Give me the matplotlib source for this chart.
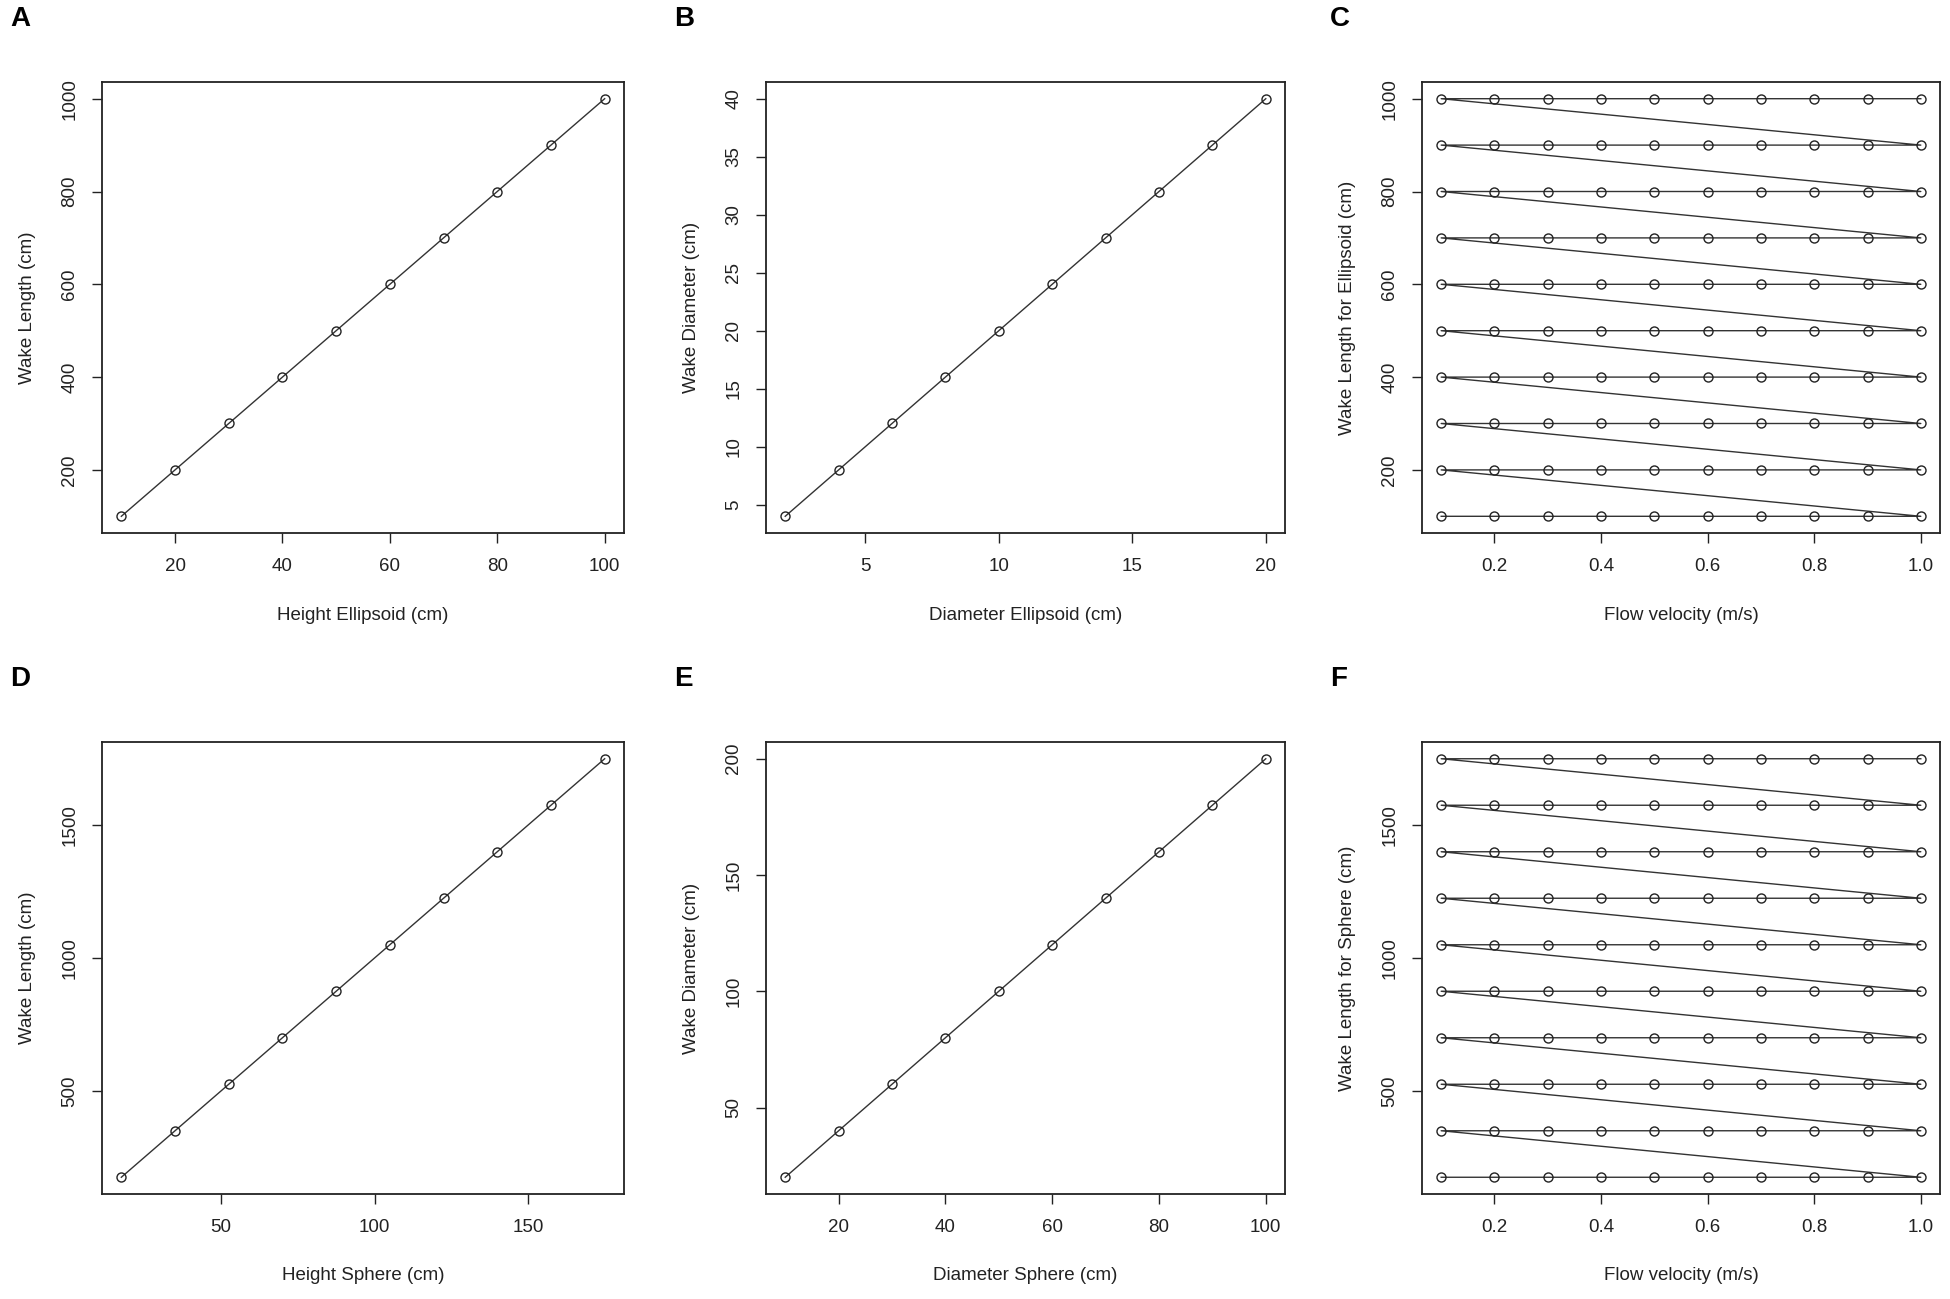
import matplotlib
matplotlib.use("Agg")
import matplotlib.pyplot as plt

plt.rcParams['font.family'] = ['Liberation Sans', 'DejaVu Sans']

# data
height_ellipsoid = [10, 20, 30, 40, 50, 60, 70, 80, 90, 100]
wake_length_ellipsoid = [100, 200, 300, 400, 500, 600, 700, 800, 900, 1000]
diameter_ellipsoid = [2, 4, 6, 8, 10, 12, 14, 16, 18, 20]
wake_diameter_ellipsoid = [4, 8, 12, 16, 20, 24, 28, 32, 36, 40]
height_sphere = [17.5, 35, 52.5, 70, 87.5, 105, 122.5, 140, 157.5, 175]
wake_length_sphere = [175, 350, 525, 700, 875, 1050, 1225, 1400, 1575, 1750]
diameter_sphere = [10, 20, 30, 40, 50, 60, 70, 80, 90, 100]
wake_diameter_sphere = [20, 40, 60, 80, 100, 120, 140, 160, 180, 200]
flow_velocity = [0.1, 0.2, 0.3, 0.4, 0.5, 0.6, 0.7, 0.8, 0.9, 1.0]

xticks_a = [20, 40, 60, 80, 100]
yticks_a = [200, 400, 600, 800, 1000]
xticks_b = [5, 10, 15, 20]
yticks_b = [5, 10, 15, 20, 25, 30, 35, 40]
xticks_c = [0.2, 0.4, 0.6, 0.8, 1.0]
yticks_c = [200, 400, 600, 800, 1000]
xticks_d = [50, 100, 150]
yticks_d = [500, 1000, 1500]
xticks_e = [20, 40, 60, 80, 100]
yticks_e = [50, 100, 150, 200]
yticks_f = [500, 1000, 1500]


def grid(levels):
    # velocity sweep for every wake level, in the order R drew them
    xs, ys = [], []
    for lv in levels:
        for v in flow_velocity:
            xs.append(v)
            ys.append(lv)
    return xs, ys


W, H = 1950, 1299
fig = plt.figure(figsize=(W / 100, H / 100), dpi=100)

cols = [(102, 624), (766, 1285), (1422, 1940)]
rows = [(82, 533), (742, 1194)]

panels = [
    ('A', height_ellipsoid, wake_length_ellipsoid, 'Height Ellipsoid (cm)', 'Wake Length (cm)', xticks_a, yticks_a, None),
    ('B', diameter_ellipsoid, wake_diameter_ellipsoid, 'Diameter Ellipsoid (cm)', 'Wake Diameter (cm)', xticks_b, yticks_b, None),
    ('C', *grid(wake_length_ellipsoid), 'Flow velocity (m/s)', 'Wake Length for Ellipsoid (cm)', xticks_c, yticks_c, '%.1f'),
    ('D', height_sphere, wake_length_sphere, 'Height Sphere (cm)', 'Wake Length (cm)', xticks_d, yticks_d, None),
    ('E', diameter_sphere, wake_diameter_sphere, 'Diameter Sphere (cm)', 'Wake Diameter (cm)', xticks_e, yticks_e, None),
    ('F', *grid(wake_length_sphere), 'Flow velocity (m/s)', 'Wake Length for Sphere (cm)', xticks_c, yticks_f, '%.1f'),
]

txt = '#222222'
for i, (letter, x, y, xl, yl, xt, yt, fmt) in enumerate(panels):
    r, c = divmod(i, 3)
    x0, x1 = cols[c]
    y0, y1 = rows[r]
    ax = fig.add_axes([x0 / W, 1 - y1 / H, (x1 - x0) / W, (y1 - y0) / H])
    ax.plot(x, y, color='#333333', lw=1.0, marker='o', markersize=6.5,
            markerfacecolor='none', markeredgecolor='#222222', markeredgewidth=1.0)
    ax.margins(0.04)
    ax.set_xticks(xt)
    ax.set_yticks(yt)
    if fmt:
        ax.set_xticklabels([fmt % v for v in xt])
    for s in ax.spines.values():
        s.set_linewidth(1.3)
        s.set_color('#222222')
    ax.tick_params(direction='out', length=7, width=1, color='#222222',
                   labelsize=13.5, labelcolor=txt)
    ax.tick_params(axis='x', pad=11)
    ax.tick_params(axis='y', pad=10, labelrotation=90)
    for lab in ax.get_yticklabels():
        lab.set_va('center')
    ax.set_xlabel(xl, fontsize=13.5, color=txt)
    ax.set_ylabel(yl, fontsize=13.5, color=txt)
    ax.xaxis.set_label_coords(0.5, -82 / (y1 - y0))
    ax.xaxis.label.set_va('center')
    ax.yaxis.set_label_coords(-75 / (x1 - x0), 0.5)
    ax.yaxis.label.set_va('center')
    fig.text((x0 - 92) / W, 1 - (y0 - 63) / H, letter, fontsize=20,
             fontweight='bold', ha='left', va='center', color='black')

fig.savefig('out.png', dpi=100)
